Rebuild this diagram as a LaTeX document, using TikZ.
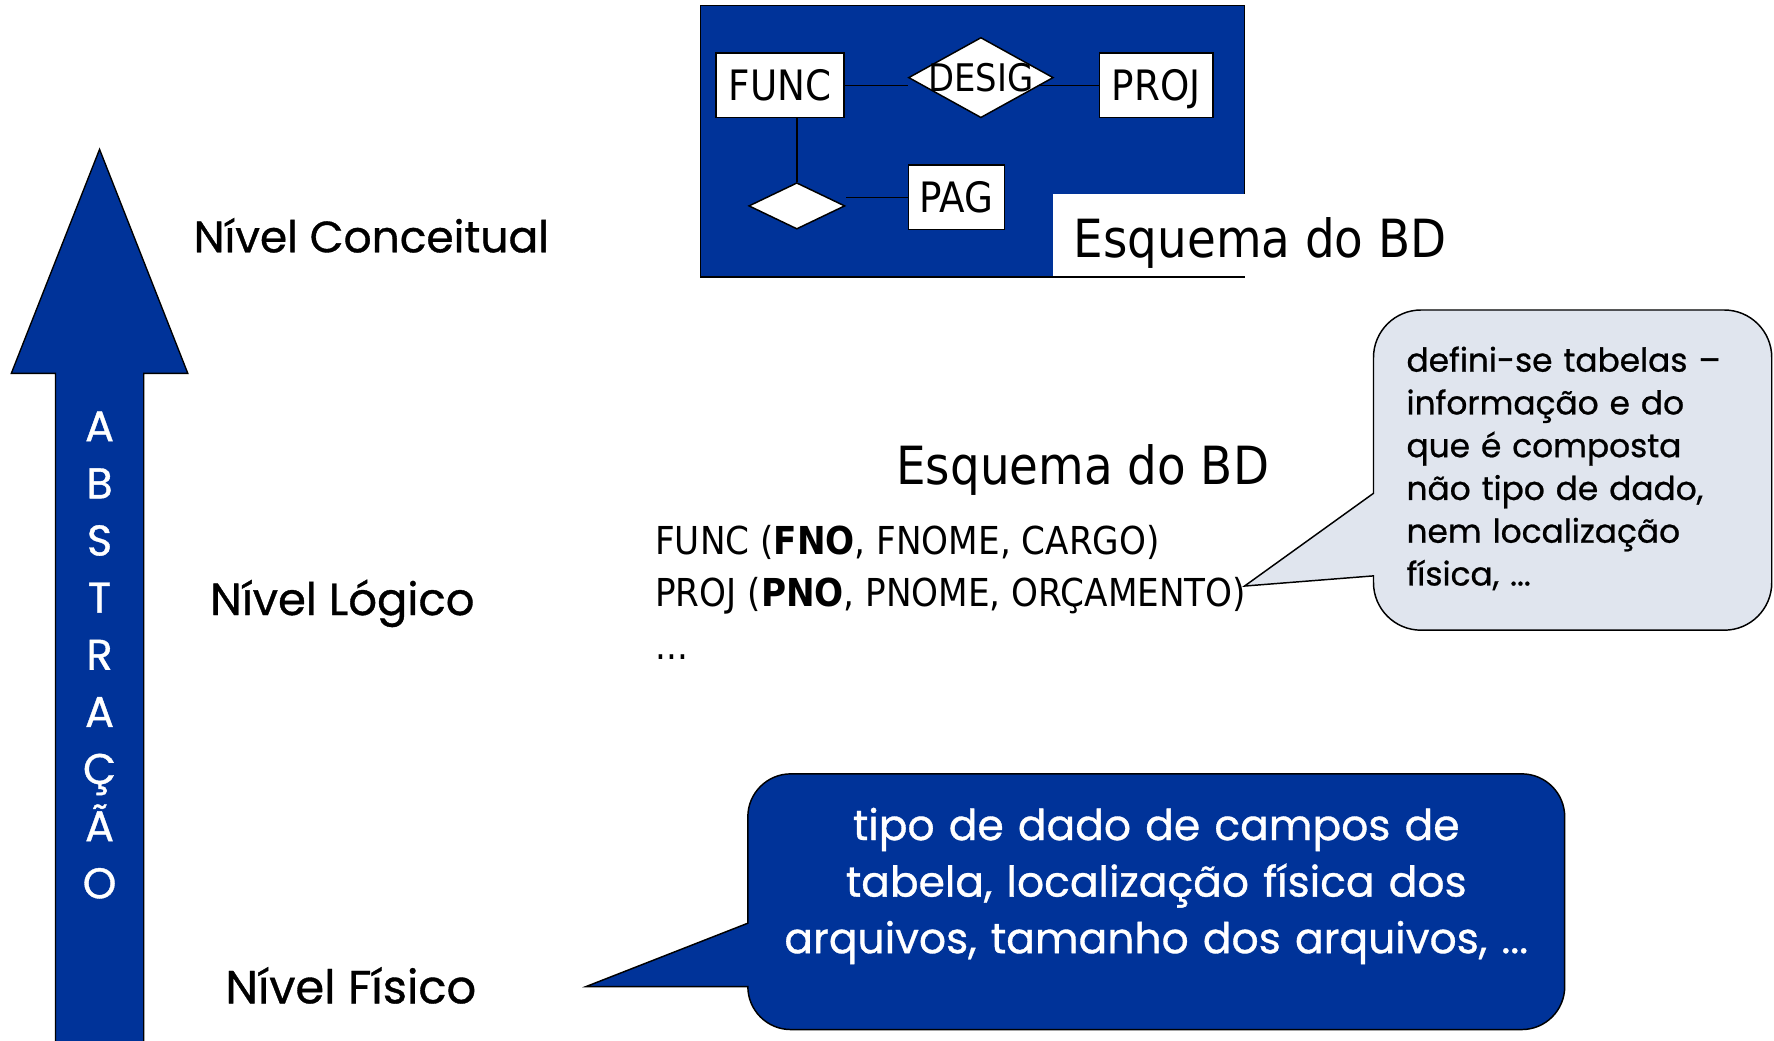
\documentclass[tikz,border=0pt]{standalone}
\usepackage{fontspec}
\usetikzlibrary{shapes.geometric}
\newfontfamily\tah[FakeStretch=0.89]{DejaVu Sans}
\newfontfamily\comic[FakeBold=0.8]{Poppins}
\definecolor{dblue}{RGB}{0,51,153}
\definecolor{lgray}{RGB}{224,229,238}
\pgfdeclarelayer{back}\pgfdeclarelayer{mid}\pgfsetlayers{back,mid,main}
\begin{document}
\begin{tikzpicture}[x=1pt,y=1pt,line join=miter,
  erbox/.style={draw=black,fill=white,line width=1.3pt,inner sep=0pt,text height=27pt,text depth=0pt,font=\tah\fontsize{37}{44}\selectfont},
  erdiam/.style={diamond,draw=black,fill=white,line width=1.3pt,inner sep=0pt},
  erline/.style={line width=1.3pt},
  lvl/.style={anchor=base west,inner sep=0pt},
  rel/.style={anchor=base west,inner sep=0pt,font=\tah\fontsize{34}{40}\selectfont},
  esq/.style={anchor=base west,inner sep=0pt,font=\tah\fontsize{46.5}{56}\selectfont}]
\useasboundingbox (0,0) rectangle (1568,-920);
% abstraction arrow
\draw[fill=dblue,line width=1.2pt] (88,-132) -- (166,-330) -- (127,-330) -- (127,-930) -- (49,-930) -- (49,-330) -- (10,-330) -- cycle;
\node[anchor=base,text width=60pt,align=center,inner sep=0pt,text=white,font=\comic\fontsize{38}{50.5}\selectfont] (abs) at (88,-390) {A\\B\\S\\T\\R\\A\\Ç\\Ã\\O};
% levels
\node[lvl,font=\comic\fontsize{38.8}{48}\selectfont] (nc) at (171,-223) {Nível Conceitual};
\node[lvl,font=\comic\fontsize{39.7}{48}\selectfont] (nl) at (185.6,-543.6) {Nível Lógico};
\node[lvl,font=\comic\fontsize{41}{48}\selectfont] (nf) at (199,-886.8) {Nível Físico};
% conceptual schema
\begin{pgfonlayer}{back}
\draw[fill=dblue,line width=1.3pt] (619,-5) rectangle (1100,-245);
\fill[white] (931,-171.5) rectangle (1102,-244.2);
\end{pgfonlayer}
\node[erbox,minimum width=113pt,minimum height=57pt] (func) at (689.5,-75.5) {FUNC};
\node[erdiam,minimum width=128pt,minimum height=71pt,label={[font=\tah\fontsize{33.6}{40}\selectfont,inner sep=0pt]center:DESIG}] (desig) at (867,-68.6) {};
\node[erbox,minimum width=100pt,minimum height=57pt] (proj) at (1022,-75.5) {PROJ};
\node[erdiam,minimum width=85pt,minimum height=41pt] (pdiam) at (704.3,-182) {};
\node[erbox,minimum width=85pt,minimum height=57pt] (pag) at (845.5,-174.5) {PAG};
\begin{pgfonlayer}{mid}
\draw[erline] (func.east) -- (func.east -| desig.west);
\draw[erline] (desig.center |- proj.west) -- (proj.west);
\draw[erline] (pdiam.north |- func.south) -- (pdiam.north);
\draw[erline] (pag.west) -- (pag.west -| pdiam.east);
\end{pgfonlayer}
\node[esq] (esq1) at (949,-228) {Esquema do BD};
% logical schema
\node[esq] (esq2) at (792,-428) {Esquema do BD};
\node[rel] (r1) at (579,-490) {FUNC (\textbf{FNO}, FNOME, CARGO)};
\node[rel] (r2) at (579,-536) {PROJ (\textbf{PNO}, PNOME, ORÇAMENTO)};
\node[rel] (r3) at (579,-583) {...};
% callout 1
\draw[fill=lgray,line width=1.3pt] (1100,-518) -- (1214,-509) -- (1214,-515) arc[start angle=180,end angle=270,radius=42] -- (1524,-557) arc[start angle=270,end angle=360,radius=42] -- (1566,-316) arc[start angle=0,end angle=90,radius=42] -- (1256,-274) arc[start angle=90,end angle=180,radius=42] -- (1214,-436) -- cycle;
\node[anchor=base west,inner sep=0pt,text width=330pt,align=left,font=\comic\fontsize{29}{37.8}\selectfont] (c1t) at (1243,-328.5) {defini-se tabelas –\\informação e do\\que é composta\\não tipo de dado,\\nem localização\\física, ...};
% callout 2
\draw[fill=dblue,line width=1.3pt] (518,-872) -- (661,-816) -- (661,-722) arc[start angle=180,end angle=90,radius=38] -- (1345,-684) arc[start angle=90,end angle=0,radius=38] -- (1383,-872) arc[start angle=0,end angle=-90,radius=38] -- (699,-910) arc[start angle=270,end angle=180,radius=38] -- cycle;
\node[anchor=base,inner sep=0pt,text width=720pt,align=center,text=white,font=\comic\fontsize{37.5}{50}\selectfont] (c2t) at (1022,-742.5) {tipo de dado de campos de\\tabela, localização física dos\\arquivos, tamanho dos arquivos, ...};
\end{tikzpicture}
\end{document}
